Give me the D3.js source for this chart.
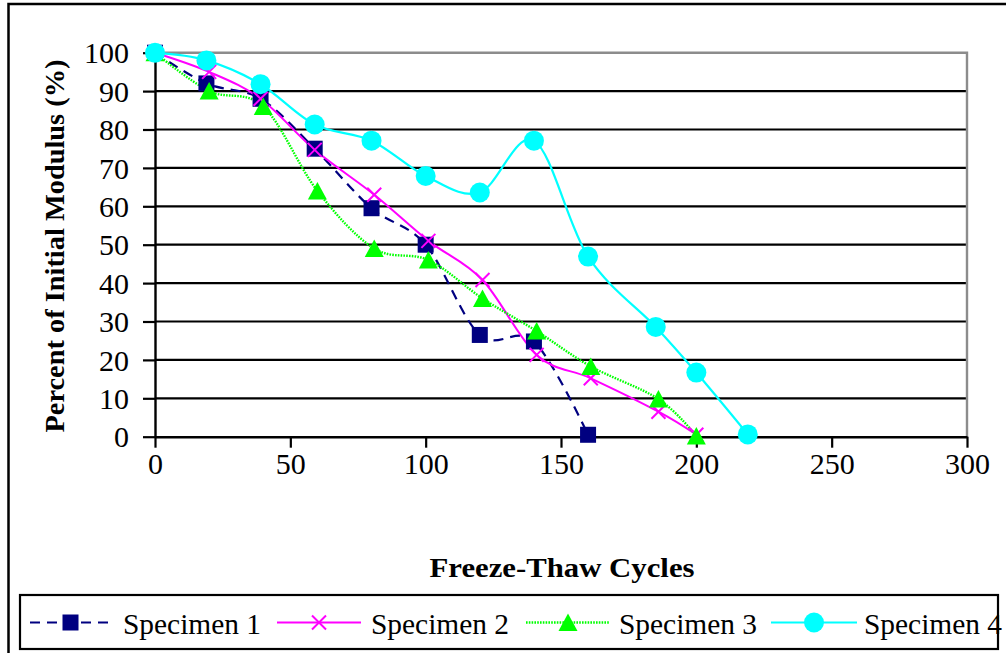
<!DOCTYPE html>
<html>
<head>
<meta charset="utf-8">
<script src="https://cdn.jsdelivr.net/npm/d3@7"></script>
<style>
  html, body { margin: 0; padding: 0; background: #fff; }
  svg { display: block; font-family: "Liberation Serif", "Times New Roman", serif; }
</style>
</head>
<body>
<svg id="chart" width="1006" height="653"></svg>
<script>
// Freeze-thaw cycles at each measurement, per specimen
const cycles1 = [0, 19, 39, 59, 80, 100, 120, 140, 160];
const modulus1 = [100, 92, 88, 75, 59.5, 50, 26.5, 24.8, 0.5];

const cycles2 = [0, 20, 39, 59, 81, 101, 121, 141, 161, 186, 200];
const modulus2 = [100, 95, 88, 74.7, 63, 51, 40.8, 21.3, 15.2, 6.5, 0.5];

const cycles3 = [0, 20, 40, 60, 81, 101, 121, 141, 161, 186, 200];
const modulus3 = [100, 90, 86, 64, 49, 46, 36, 27.5, 18.3, 9.8, 0.2];

const cycles4 = [0, 19, 39, 59, 80, 100, 120, 140, 160, 185, 200, 219];
const modulus4 = [100, 98, 91.8, 81.3, 77.1, 67.9, 63.6, 77.1, 46.9, 28.6, 16.7, 0.6];

const seriesNames = ["Specimen 1", "Specimen 2", "Specimen 3", "Specimen 4"];
const xTicks = [0, 50, 100, 150, 200, 250, 300];
const yTicks = [0, 10, 20, 30, 40, 50, 60, 70, 80, 90, 100];

const xTitle = "Freeze-Thaw Cycles";
const yTitle = "Percent of Initial Modulus (%)";

const series = [
  { name: seriesNames[0], xs: cycles1, ys: modulus1, color: "#000080", width: 2.2, dash: "10,7", marker: "square" },
  { name: seriesNames[1], xs: cycles2, ys: modulus2, color: "#FF00FF", width: 2, dash: null, marker: "cross" },
  { name: seriesNames[2], xs: cycles3, ys: modulus3, color: "#00FF00", width: 2.4, dash: "1.6,1.2", marker: "triangle" },
  { name: seriesNames[3], xs: cycles4, ys: modulus4, color: "#00FFFF", width: 2.2, dash: null, marker: "circle" }
];

const svg = d3.select("#chart");
const plot = { left: 155, right: 967, top: 52.7, bottom: 436.7 };

const x = d3.scaleLinear().domain([0, 300]).range([plot.left, plot.right]);
const y = d3.scaleLinear().domain([0, 100]).range([plot.bottom, plot.top]);

// outer chart frame (right and bottom edges fall outside the view)
svg.append("rect")
  .attr("x", 8.5).attr("y", 4).attr("width", 1100).attr("height", 800)
  .attr("fill", "none").attr("stroke", "#000").attr("stroke-width", 2.5);

// horizontal gridlines
svg.append("g").selectAll("line")
  .data(yTicks.filter(d => d > 0 && d < 100))
  .join("line")
  .attr("x1", plot.left).attr("x2", plot.right)
  .attr("y1", d => y(d)).attr("y2", d => y(d))
  .attr("stroke", "#000").attr("stroke-width", 2.2);

// plot-area border (top and right, grey)
svg.append("path")
  .attr("d", `M${plot.left},${plot.top}H${plot.right}V${plot.bottom}`)
  .attr("fill", "none").attr("stroke", "#8c8c8c").attr("stroke-width", 2.4);

// x axis
const xAxis = d3.axisBottom(x).tickValues(xTicks).tickSize(11).tickPadding(6).tickSizeOuter(0);
const gx = svg.append("g").attr("transform", `translate(0,${plot.bottom})`).call(xAxis);
gx.select(".domain").attr("stroke", "#000").attr("stroke-width", 2.4);
gx.selectAll(".tick line").attr("stroke", "#000").attr("stroke-width", 2.2);
gx.selectAll(".tick text")
  .attr("font-family", "Liberation Serif, Times New Roman, serif")
  .attr("font-size", 30).attr("fill", "#000")
  .attr("dy", "0.71em").attr("y", 16);

// y axis
const yAxis = d3.axisLeft(y).tickValues(yTicks).tickSize(12).tickPadding(14).tickSizeOuter(0);
const gy = svg.append("g").attr("transform", `translate(${plot.left},0)`).call(yAxis);
gy.select(".domain").attr("stroke", "#000").attr("stroke-width", 2.4);
gy.selectAll(".tick line").attr("stroke", "#000").attr("stroke-width", 2.2);
gy.selectAll(".tick text")
  .attr("font-family", "Liberation Serif, Times New Roman, serif")
  .attr("font-size", 30).attr("fill", "#000")
  .attr("dy", "0.34em").attr("x", -26);

// axis titles
svg.append("text")
  .attr("x", 562).attr("y", 577)
  .attr("text-anchor", "middle")
  .attr("font-size", 28).attr("font-weight", "bold")
  .attr("textLength", 265).attr("lengthAdjust", "spacingAndGlyphs")
  .text(xTitle);

svg.append("text")
  .attr("transform", "translate(64,246) rotate(-90)")
  .attr("text-anchor", "middle")
  .attr("font-size", 28).attr("font-weight", "bold")
  .attr("textLength", 373).attr("lengthAdjust", "spacingAndGlyphs")
  .text(yTitle);

// marker drawing
function drawMarker(g, type, color) {
  if (type === "square") {
    g.append("rect").attr("x", -8).attr("y", -8).attr("width", 16).attr("height", 16).attr("fill", color);
  } else if (type === "cross") {
    g.append("path").attr("d", "M-7,-7L7,7M-7,7L7,-7").attr("stroke", color).attr("stroke-width", 2).attr("fill", "none");
  } else if (type === "triangle") {
    g.append("path").attr("d", "M0,-9L9.5,8.5L-9.5,8.5Z").attr("fill", color);
  } else if (type === "circle") {
    g.append("circle").attr("r", 10).attr("fill", color);
  }
}

const line = d3.line()
  .x(d => x(d[0])).y(d => y(d[1]))
  .curve(d3.curveCardinal.tension(0));

const gSeries = svg.append("g");
series.forEach(s => {
  const pts = s.xs.map((c, i) => [c, s.ys[i]]);
  gSeries.append("path")
    .datum(pts)
    .attr("d", line)
    .attr("fill", "none")
    .attr("stroke", s.color)
    .attr("stroke-width", s.width)
    .attr("stroke-dasharray", s.dash);
});
series.forEach(s => {
  const pts = s.xs.map((c, i) => [c, s.ys[i]]);
  gSeries.append("g").selectAll("g")
    .data(pts)
    .join("g")
    .attr("transform", d => `translate(${x(d[0])},${y(d[1])})`)
    .each(function () { drawMarker(d3.select(this), s.marker, s.color); });
});

// legend
svg.append("rect")
  .attr("x", 20).attr("y", 595).attr("width", 978).attr("height", 54)
  .attr("fill", "#fff").attr("stroke", "#000").attr("stroke-width", 2.2);

const legendPos = [
  { x0: 30, x1: 111, tx: 123 },
  { x0: 277, x1: 361, tx: 371 },
  { x0: 526, x1: 610, tx: 619 },
  { x0: 771, x1: 857, tx: 864 }
];
const ly = 622.5;
series.forEach((s, i) => {
  const p = legendPos[i];
  const g = svg.append("g");
  g.append("line")
    .attr("x1", p.x0).attr("x2", p.x1).attr("y1", ly).attr("y2", ly)
    .attr("stroke", s.color).attr("stroke-width", s.width)
    .attr("stroke-dasharray", s.dash);
  const m = g.append("g").attr("transform", `translate(${(p.x0 + p.x1) / 2},${ly})`);
  drawMarker(m, s.marker, s.color);
  g.append("text")
    .attr("x", p.tx).attr("y", ly + 11)
    .attr("font-size", 30)
    .attr("textLength", 138).attr("lengthAdjust", "spacingAndGlyphs")
    .text(s.name);
});
</script>
</body>
</html>
